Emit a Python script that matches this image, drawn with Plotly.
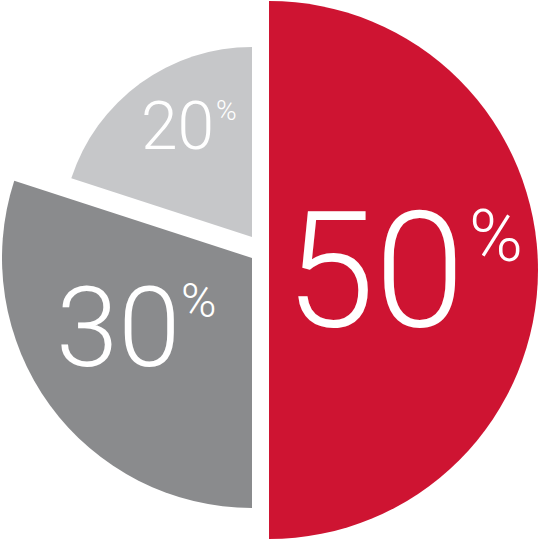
import plotly.graph_objects as go

# Data
labels = ["A", "B", "C"]
values = [50, 30, 20]
colors = ["#CE1432", "#8A8B8D", "#C6C7C9"]

W = H = 540

# per-slice pie geometry (center x, center y from top, radius) in px
geom = [
    (269, 270, 269),
    (252, 258, 250),
    (252, 237, 190),
]

fig = go.Figure()
for i, (cx, cy, r) in enumerate(geom):
    cols = ["rgba(0,0,0,0)"] * len(values)
    cols[i] = colors[i]
    py = H - cy
    fig.add_trace(go.Pie(
        labels=labels, values=values, sort=False, direction="clockwise", rotation=0,
        marker=dict(colors=cols, line=dict(width=0)),
        textinfo="none", hoverinfo="skip", showlegend=False,
        domain=dict(x=[(cx - r) / W, (cx + r) / W], y=[(py - r) / H, (py + r) / H]),
    ))

# label positions (screen px) and font sizes
num_pos = [(374.5, 271, 162), (117.5, 327, 112), (177, 127, 66)]
pct_pos = [(496, 236, 73), (198, 300, 48), (226.5, 110, 28)]

font_family = "Roboto"
for v, (nx, ny, ns), (px, pyy, ps) in zip(values, num_pos, pct_pos):
    fig.add_annotation(x=nx / W, y=1 - ny / H, xref="paper", yref="paper", text=str(v),
                       showarrow=False, xanchor="center", yanchor="middle",
                       font=dict(family=font_family, size=ns, color="white", weight=300))
    fig.add_annotation(x=px / W, y=1 - pyy / H, xref="paper", yref="paper", text="%",
                       showarrow=False, xanchor="center", yanchor="middle",
                       font=dict(family=font_family, size=ps, color="white", weight=300))

fig.update_layout(width=W, height=H, margin=dict(l=0, r=0, t=0, b=0),
                  paper_bgcolor="white", plot_bgcolor="white", showlegend=False)
fig.write_html("out.html")
